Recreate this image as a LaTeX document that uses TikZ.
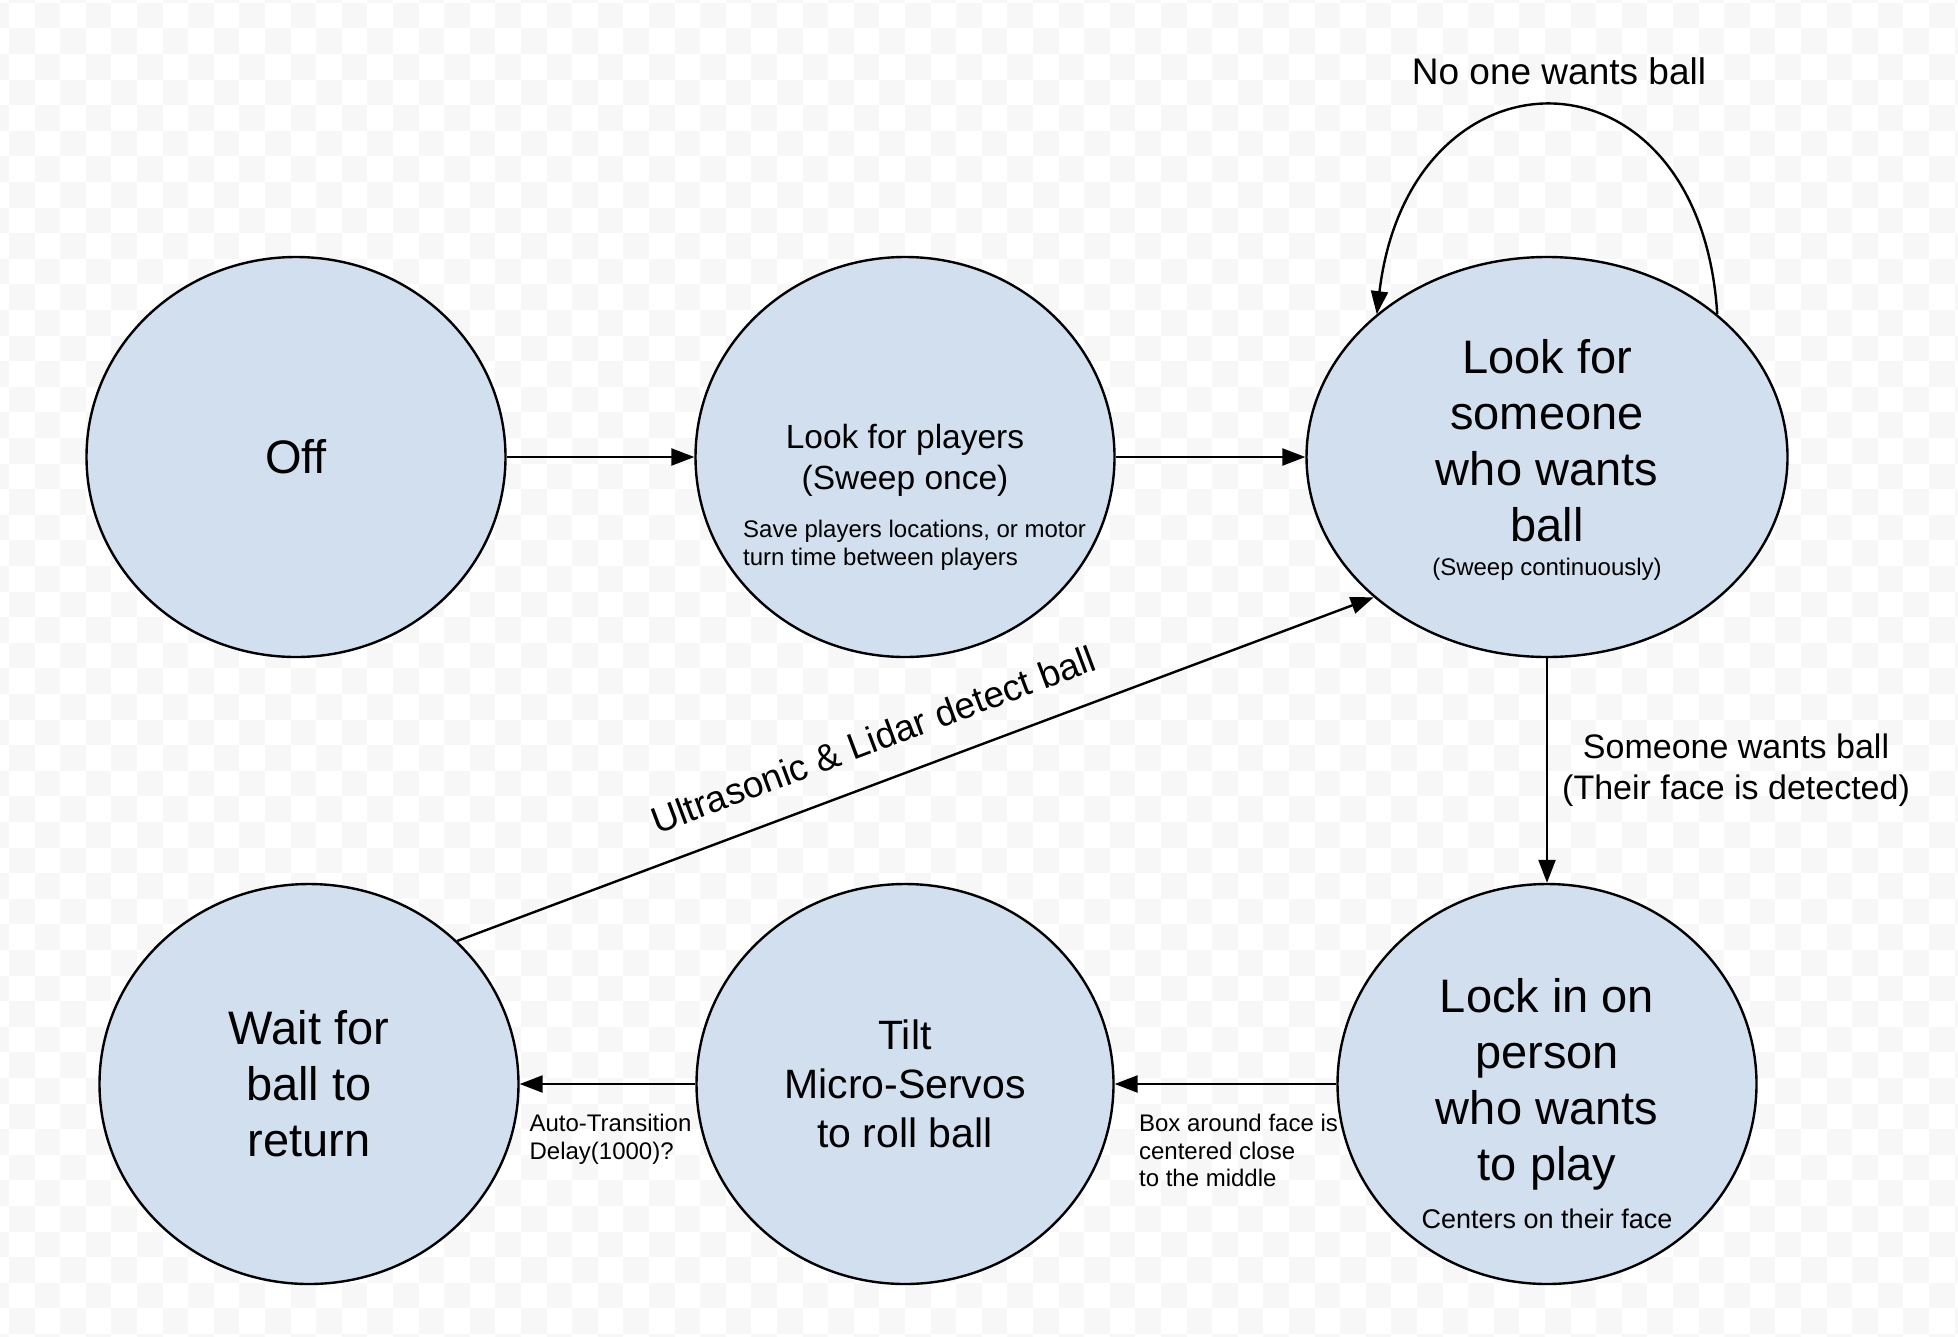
\documentclass[tikz,border=0pt]{standalone}
\usepackage{fontspec}
\setmainfont{Liberation Sans}
\usetikzlibrary{arrows.meta,positioning,shapes.geometric}
\definecolor{statefill}{RGB}{210,223,239}
\definecolor{checker}{RGB}{247,247,247}

\tikzset{
  state/.style={ellipse, draw, line width=2.4pt, fill=statefill,
    minimum width=419pt, minimum height=400pt, inner sep=0pt, align=center,
    font=\fontsize{47pt}{56pt}\selectfont},
  arr/.style={-{Triangle[length=23pt,width=17pt]}, line width=2.4pt},
  lbl/.style={inner sep=3pt, align=center, font=\fontsize{37pt}{41pt}\selectfont},
  note/.style={inner sep=3pt, font=\fontsize{24pt}{27.5pt}\selectfont}
}

\begin{document}
\begin{tikzpicture}[x=1pt,y=-1pt]
  % Background
  \useasboundingbox (0,0) rectangle (1958,1336);
  \begin{scope}
    \clip (0,0) rectangle (1958,1336);
    \foreach \j in {-1,...,52}{
      \pgfmathtruncatemacro{\ia}{mod(\j+1,2)-2}
      \pgfmathtruncatemacro{\ib}{\ia+2}
      \foreach \i in {\ia,\ib,...,77}
        \fill[checker] (9+25.6*\i,2.7+25.6*\j) rectangle +(25.6,25.6);
    }
  \end{scope}

  % States
  \node[state] (off) at (296,457) {Off};
  \node[state, text depth=0pt, font=\fontsize{33.5pt}{41pt}\selectfont] (players) at (905,457)
    {Look for players\\(Sweep once)};
  \node[state, minimum width=481pt, text depth=0pt] (someone) at (1547,457)
    {Look for\\someone\\who wants\\ball\\[-22pt]{\fontsize{24pt}{28pt}\selectfont(Sweep continuously)}};
  \node[state] (lock) at (1547,1084) {Lock in on\\person\\who wants\\to play};
  \node[state, minimum width=417pt, font=\fontsize{41pt}{49pt}\selectfont] (tilt) at (905,1084)
    {Tilt\\Micro-Servos\\to roll ball};
  \node[state] (wait) at (309,1084) {Wait for\\ball to\\return};

  % Notes inside states
  \node[note, inner sep=0pt, align=left, anchor=north west] (playersnote) at (743,520)
    {Save players locations, or motor\\turn time between players};
  \node[note, inner sep=0pt, anchor=base, font=\fontsize{27pt}{31pt}\selectfont] (locknote) at (1547,1228)
    {Centers on their face};

  % Transitions
  \draw[arr] (off) -- (players);
  \draw[arr] (players) -- (someone);
  \draw[arr] (someone) -- node[lbl, right, inner sep=14pt, font=\fontsize{34pt}{41pt}\selectfont]
    {Someone wants ball\\(Their face is detected)} (lock);
  \draw[arr] (lock) -- node[note, below=26pt, xshift=13pt, align=left]
    {Box around face is\\centered close\\to the middle} (tilt);
  \draw[arr] (tilt) -- node[note, below=26pt, xshift=3pt, align=left] {Auto-Transition\\Delay(1000)?} (wait);
  \draw[arr] (wait.44) -- node[lbl, sloped, pos=0.47, above=25pt] {Ultrasonic \& Lidar detect ball} (someone.219);
  \draw[arr] (someone.40) .. controls (1700,37) and (1410,37) ..
    node[lbl, above=17pt, xshift=6pt] {No one wants ball} (someone.140);
\end{tikzpicture}
\end{document}
